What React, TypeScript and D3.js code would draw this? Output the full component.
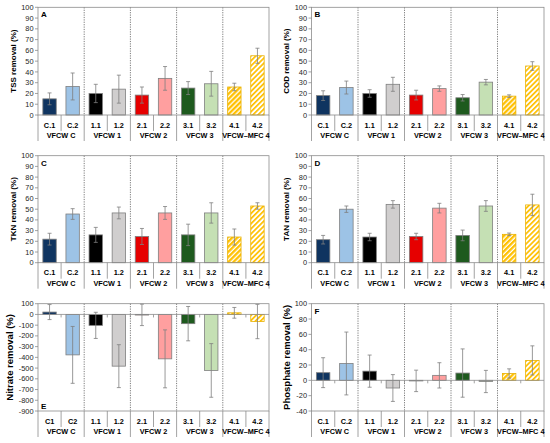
import * as d3 from 'd3';

// Categories and groups
const categories = ['C.1', 'C.2', '1.1', '1.2', '2.1', '2.2', '3.1', '3.2', '4.1', '4.2'];
const nitrateCategories = ['C1', 'C2', '1.1', '1.2', '2.1', '2.2', '3.1', '3.2', '4.1', '4.2'];
const groups = ['VFCW C', 'VFCW 1', 'VFCW 2', 'VFCW 3', 'VFCW–MFC 4'];

// Removal efficiencies (%) and standard deviations
const tssMean = [15, 26.5, 20, 24, 18.5, 34, 25, 29, 26, 55];
const tssErr = [5.5, 12.5, 8.5, 13, 7.5, 11, 6, 11.5, 3.5, 7];
const codMean = [18, 25.5, 20, 28.5, 18.5, 24.5, 16, 30.5, 17.5, 45.5];
const codErr = [4.5, 6, 3.5, 6.5, 4.5, 2.5, 3, 2.5, 1.2, 4];
const tknMean = [22, 45.5, 26, 46.5, 24.5, 46.5, 26, 46.5, 24, 53];
const tknErr = [5.5, 5, 7, 5.5, 7.5, 6, 10, 9.5, 7.5, 3];
const tanMean = [21.5, 50, 24, 54.5, 24.5, 51, 25.5, 53, 26.5, 54];
const tanErr = [4, 3, 3.5, 3.5, 3, 4.5, 5, 5, 1.2, 10];
const nitrateMean = [22, -377, -102, -482, -4, -414, -86, -522, 15, -66];
const nitrateErr = [70, 265, 122, 200, 100, 270, 160, 250, 50, 160];
const phosphateMean = [10, 22, 12, -10, -0.7, 6.5, 9.5, -1.5, 9, 26];
const phosphateErr = [19.5, 41, 21, 17.5, 14, 16.5, 31.5, 14.5, 6, 19];

const barFills = ['#0f3460', '#9dc3e6', '#000000', '#d0cece', '#e60000', '#ff9f9f', '#1e5a1e', '#c5e0b4', 'url(#hatch41)', 'url(#hatch42)'];
const barStrokes = ['#7f7f7f', '#7f7f7f', '#7f7f7f', '#7f7f7f', '#7f7f7f', '#7f7f7f', '#7f7f7f', '#7f7f7f', '#e8b000', '#e8b000'];

const FONT = 'Liberation Sans, Arial, sans-serif';
const AXIS = '#8c8c8c';

interface PanelProps {
  letter: string;
  letterBottom?: boolean;
  title: string;
  titleSize: number;
  titleDx: number;
  cats: string[];
  mean: number[];
  err: number[];
  domain: [number, number];
  step: number;
  x0: number;
  x1: number;
  top: number;
  bottom: number;
}

function Panel(p: PanelProps) {
  const x = d3.scaleBand<string>().domain(p.cats).range([p.x0, p.x1]);
  const gx = d3.scaleBand<string>().domain(groups).range([p.x0, p.x1]);
  const y = d3.scaleLinear().domain(p.domain).range([p.bottom, p.top]);
  const ticks = d3.range(p.domain[0], p.domain[1] + p.step / 2, p.step);
  const zeroY = y(0);
  const bw = x.bandwidth() * 0.58;
  const cw = x.bandwidth();

  return (
    <g fontFamily={FONT}>
      {/* y ticks */}
      {ticks.map(t => (
        <g key={t}>
          <line x1={p.x0 - 3} x2={p.x0} y1={y(t)} y2={y(t)} stroke={AXIS} strokeWidth={0.8} />
          <text x={p.x0 - 4.5} y={y(t)} dy="0.35em" textAnchor="end" fontSize={7.4} fill="#262626">{String(t)}</text>
        </g>
      ))}
      {/* group dividers */}
      {groups.slice(1).map(g => (
        <line key={g} x1={gx(g)} x2={gx(g)} y1={p.top} y2={p.bottom} stroke="#595959" strokeWidth={0.8} strokeDasharray="1.2,1.2" />
      ))}
      {/* bars */}
      {p.mean.map((v, i) => {
        const cx = (x(p.cats[i]) as number) + cw / 2;
        const yv = y(v);
        return (
          <rect key={i} x={cx - bw / 2} y={Math.min(yv, zeroY)} width={bw} height={Math.max(Math.abs(yv - zeroY), 0.6)}
            fill={barFills[i]} stroke={barStrokes[i]} strokeWidth={0.8} />
        );
      })}
      {/* error bars */}
      {p.mean.map((v, i) => {
        const cx = (x(p.cats[i]) as number) + cw / 2;
        const hi = y(v + p.err[i]);
        const lo = y(v - p.err[i]);
        return (
          <g key={'e' + i} stroke="#7f7f7f" strokeWidth={0.8}>
            <line x1={cx} x2={cx} y1={hi} y2={lo} />
            <line x1={cx - 2} x2={cx + 2} y1={hi} y2={hi} />
            <line x1={cx - 2} x2={cx + 2} y1={lo} y2={lo} />
          </g>
        );
      })}
      {/* zero axis inside plot */}
      {zeroY < p.bottom - 1 && (
        <g stroke={AXIS} strokeWidth={0.8}>
          <line x1={p.x0} x2={p.x1} y1={zeroY} y2={zeroY} />
          {d3.range(1, p.cats.length).map(i => (
            <line key={i} x1={p.x0 + i * cw} x2={p.x0 + i * cw} y1={zeroY} y2={zeroY + 3} />
          ))}
        </g>
      )}
      {/* plot frame */}
      <rect x={p.x0} y={p.top} width={p.x1 - p.x0} height={p.bottom - p.top} fill="none" stroke={AXIS} strokeWidth={0.8} />
      {/* category separators */}
      {d3.range(0, p.cats.length + 1).map(i => (
        <line key={'s' + i} x1={p.x0 + i * cw} x2={p.x0 + i * cw} y1={p.bottom} y2={p.bottom + (i % 2 === 0 ? 26 : 16)} stroke={AXIS} strokeWidth={0.8} />
      ))}
      {p.cats.map(c => (
        <text key={c} x={(x(c) as number) + cw / 2} y={p.bottom + 10} dy="0.35em" textAnchor="middle" fontSize={7.3} fontWeight="bold" fill="#000">{c}</text>
      ))}
      {groups.map(g => (
        <text key={g} x={(gx(g) as number) + gx.bandwidth() / 2} y={p.bottom + 20.5} dy="0.35em" textAnchor="middle" fontSize={7.3} fontWeight="bold" fill="#000">{g}</text>
      ))}
      {/* panel letter */}
      <text x={p.x0 + 3} y={p.letterBottom ? p.bottom - 5 : p.top + 7} dy="0.35em" fontSize={8} fontWeight="bold" fill="#000">{p.letter}</text>
      {/* y title */}
      <text transform={`translate(${p.x0 - p.titleDx},${(p.top + p.bottom) / 2}) rotate(-90)`} dy="0.35em" textAnchor="middle"
        fontSize={p.titleSize} fontWeight="bold" fill="#000">{p.title}</text>
    </g>
  );
}

const cols = [{ x0: 38, x1: 269 }, { x0: 311.5, x1: 544 }];
const rows = [{ top: 7.3, bottom: 115 }, { top: 155.7, bottom: 262.7 }, { top: 303.7, bottom: 411 }];

export default function App() {
  return (
    <svg width={550} height={443} style={{ position: 'absolute', left: 0, top: 0, background: '#fff' }}>
      <defs>
        <pattern id="hatch41" patternUnits="userSpaceOnUse" width={3.6} height={3.6} patternTransform="rotate(45)">
          <rect width={3.6} height={3.6} fill="#fff" />
          <rect width={2.3} height={3.6} fill="#ffc000" />
        </pattern>
        <pattern id="hatch42" patternUnits="userSpaceOnUse" width={3.6} height={3.6} patternTransform="rotate(45)">
          <rect width={3.6} height={3.6} fill="#fff" />
          <rect width={1.7} height={3.6} fill="#ffc000" />
        </pattern>
      </defs>
      <Panel letter="A" title="TSS removal (%)" titleSize={8} titleDx={25} cats={categories} mean={tssMean} err={tssErr}
        domain={[0, 100]} step={10} {...cols[0]} {...rows[0]} />
      <Panel letter="B" title="COD removal (%)" titleSize={8} titleDx={25} cats={categories} mean={codMean} err={codErr}
        domain={[0, 100]} step={10} {...cols[1]} {...rows[0]} />
      <Panel letter="C" title="TKN removal (%)" titleSize={8} titleDx={25} cats={categories} mean={tknMean} err={tknErr}
        domain={[0, 100]} step={10} {...cols[0]} {...rows[1]} />
      <Panel letter="D" title="TAN removal (%)" titleSize={8} titleDx={25} cats={categories} mean={tanMean} err={tanErr}
        domain={[0, 100]} step={10} {...cols[1]} {...rows[1]} />
      <Panel letter="E" letterBottom title="Nitrate removal (%)" titleSize={9.5} titleDx={28} cats={nitrateCategories} mean={nitrateMean} err={nitrateErr}
        domain={[-900, 100]} step={100} {...cols[0]} {...rows[2]} />
      <Panel letter="F" title="Phosphate removal (%)" titleSize={9.5} titleDx={25} cats={categories} mean={phosphateMean} err={phosphateErr}
        domain={[-40, 100]} step={20} {...cols[1]} {...rows[2]} />
    </svg>
  );
}
